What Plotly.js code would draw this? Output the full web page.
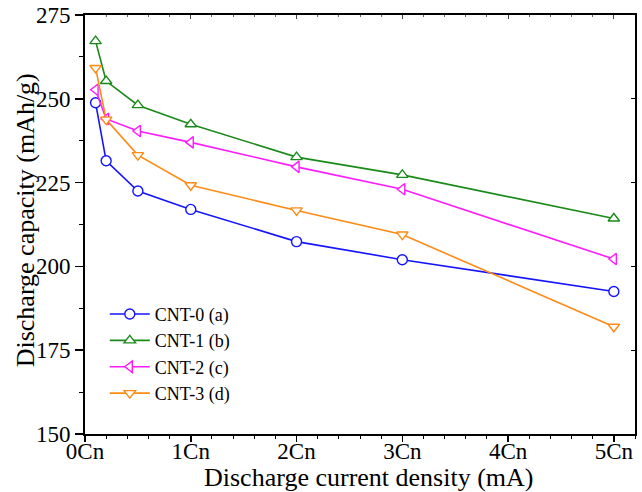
<!DOCTYPE html>
<html>
<head>
<meta charset="utf-8">
<script src="https://cdn.plot.ly/plotly-3.0.1.min.js"></script>
<style>html,body{margin:0;padding:0;background:#fff}#chart{width:642px;height:492px}</style>
</head>
<body>
<div id="chart"></div>
<script>
const currents = [0.1, 0.2, 0.5, 1, 2, 3, 5];
const cnt0 = [248.8, 231.5, 222.5, 217.0, 207.4, 202.0, 192.5];
const cnt1 = [267.2, 255.3, 248.1, 242.4, 232.6, 227.3, 214.3];
const cnt2 = [252.7, 244.0, 240.4, 237.0, 229.7, 223.0, 202.2];
const cnt3 = [259.2, 243.8, 233.2, 224.2, 216.7, 209.5, 182.0];
const seriesNames = ['CNT-0 (a)', 'CNT-1 (b)', 'CNT-2 (c)', 'CNT-3 (d)'];
const seriesColors = ['#1414ff', '#1a8a1a', '#ff1aff', '#ff8a14'];
const seriesSymbols = ['circle', 'triangle-up', 'triangle-left', 'triangle-down'];
const tickVals = [0, 1, 2, 3, 4, 5];
const tickText = ['0Cn', '1Cn', '2Cn', '3Cn', '4Cn', '5Cn'];
const xTitle = 'Discharge current density (mA)';
const yTitle = 'Discharge capacity (mAh/g)';

const font = 'Liberation Serif';
const allY = [cnt0, cnt1, cnt2, cnt3];
const traces = allY.map((ys, i) => ({
  x: currents, y: ys, name: seriesNames[i], type: 'scatter', mode: 'lines+markers',
  line: {color: seriesColors[i], width: 1.6},
  marker: {symbol: seriesSymbols[i], size: 10, color: 'white', line: {color: seriesColors[i], width: 1.4}}
}));
traces.push({x: [null], y: [null], xaxis: 'x2', yaxis: 'y2', mode: 'none', showlegend: false, hoverinfo: 'skip'});

const layout = {
  width: 642, height: 492,
  margin: {l: 85, r: 7, t: 15, b: 58},
  paper_bgcolor: 'white', plot_bgcolor: 'white',
  font: {family: font, color: '#000', size: 22},
  showlegend: true,
  legend: {x: 0.036, y: 0.33, xanchor: 'left', yanchor: 'top', bgcolor: 'rgba(0,0,0,0)',
    font: {family: font, size: 18}, tracegroupgap: 0, itemwidth: 40},
  xaxis: {
    range: [0, 5.2], tickvals: tickVals, ticktext: tickText,
    ticks: 'outside', ticklen: 6, tickwidth: 1.5, tickcolor: '#000',
    showline: true, linewidth: 2, linecolor: '#000', mirror: true,
    showgrid: false, zeroline: false, ticklabelstandoff: -11,
    minor: {dtick: 0.2, ticks: 'outside', ticklen: 3, tickwidth: 1, tickcolor: '#000'},
    tickfont: {family: font, size: 23}
  },
  yaxis: {
    range: [150, 275], dtick: 25, tick0: 150,
    ticks: 'outside', ticklen: 8, tickwidth: 1.5, tickcolor: '#000',
    showline: true, linewidth: 2, linecolor: '#000', mirror: true,
    showgrid: false, zeroline: false,
    minor: {dtick: 12.5, ticks: 'outside', ticklen: 4, tickwidth: 1, tickcolor: '#000'},
    tickfont: {family: font, size: 23}
  },
  xaxis2: {overlaying: 'x', side: 'top', anchor: 'y', range: [0, 5.2], tickvals: tickVals,
    showticklabels: false, ticks: 'inside', ticklen: 4, tickwidth: 1, tickcolor: '#444',
    minor: {dtick: 0.2, ticks: 'inside', ticklen: 2, tickcolor: '#666'},
    showgrid: false, zeroline: false, showline: false},
  yaxis2: {overlaying: 'y', side: 'right', anchor: 'x', range: [150, 275], dtick: 25, tick0: 150,
    showticklabels: false, ticks: 'inside', ticklen: 4, tickwidth: 1, tickcolor: '#000',
    showgrid: false, zeroline: false, showline: false},
  annotations: [
    {text: xTitle, xref: 'paper', yref: 'paper', x: 0.515, y: 0, xanchor: 'center', yanchor: 'bottom',
     yshift: -60, showarrow: false, font: {family: font, size: 26, color: '#000'}},
    {text: yTitle, xref: 'paper', yref: 'paper', x: 0, y: 0.51, xanchor: 'center', yanchor: 'middle',
     xshift: -60, textangle: -90, showarrow: false, font: {family: font, size: 26, color: '#000'}}
  ]
};
Plotly.newPlot('chart', traces, layout, {displayModeBar: false, staticPlot: true});
</script>
</body>
</html>
